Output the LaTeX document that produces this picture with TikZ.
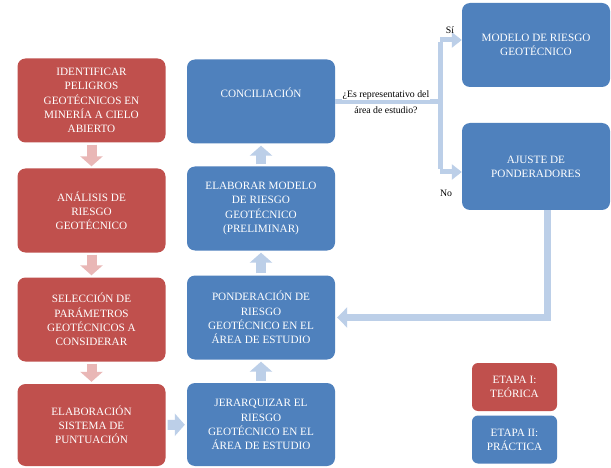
\documentclass[tikz,border=0pt]{standalone}
\usepackage{fontspec}
\setmainfont{Liberation Serif}
\usetikzlibrary{arrows.meta}
\definecolor{rbox}{HTML}{C0504D}
\definecolor{bbox}{HTML}{4F81BD}
\definecolor{barb}{HTML}{BCCFE8}
\definecolor{barr}{HTML}{E9B7B6}
\begin{document}
\begin{tikzpicture}[x=1pt,y=-1pt,
  box/.style={rounded corners=8pt, minimum width=148pt, minimum height=84pt, align=center, text=white, font=\fontsize{11.2}{14.2}\selectfont, inner sep=0pt},
  redbox/.style={box, fill=rbox},
  bluebox/.style={box, fill=bbox},
  legbox/.style={rounded corners=6pt, minimum width=85pt, minimum height=48pt, align=center, text=white, font=\fontsize{11.2}{14.2}\selectfont, inner sep=0pt},
  redarr/.style={draw=barr, line width=10pt, -{Triangle[width=22pt,length=10pt]}, shorten <=2pt, shorten >=2pt},
  bluearr/.style={draw=barb, line width=10pt, -{Triangle[width=22pt,length=10pt]}, shorten <=2pt, shorten >=2pt},
  bar/.style={draw=barb, line width=5pt},
  bartip/.style={bar, -{Triangle[width=15pt,length=10pt]}},
  lbl/.style={font=\fontsize{9.8}{12}\selectfont, text=black, inner sep=1pt, align=center}
]
\fill[white] (0,0) rectangle (611,468);
\useasboundingbox (0,0) rectangle (611,468);

% red column
\node[redbox] (r1) at (91.5,100.5) {IDENTIFICAR\\PELIGROS\\GEOTÉCNICOS EN\\MINERÍA A CIELO\\ABIERTO};
\node[redbox] (r2) at (91.5,210.5) {ANÁLISIS DE\\RIESGO\\GEOTÉCNICO};
\node[redbox] (r3) at (91.5,319.5) {SELECCIÓN DE\\PARÁMETROS\\GEOTÉCNICOS A\\CONSIDERAR};
\node[redbox, minimum height=82pt] (r4) at (91.5,425) {ELABORACIÓN\\SISTEMA DE\\PUNTUACIÓN};

% blue column
\node[bluebox] (conc) at (261,101.5) {CONCILIACIÓN\\[4pt]};
\node[bluebox] (elab) at (261,208.5) {ELABORAR MODELO\\DE RIESGO\\GEOTÉCNICO\\(PRELIMINAR)};
\node[bluebox] (pond) at (261,317.5) {PONDERACIÓN DE\\RIESGO\\GEOTÉCNICO EN EL\\ÁREA DE ESTUDIO};
\node[bluebox, minimum height=83pt] (jer) at (261,424.5) {JERARQUIZAR EL\\RIESGO\\GEOTÉCNICO EN EL\\ÁREA DE ESTUDIO};

% right column
\node[bluebox] (mod) at (536,45) {MODELO DE RIESGO\\GEOTÉCNICO};
\node[bluebox, minimum height=87pt] (aju) at (536,166.5) {AJUSTE DE\\PONDERADORES};

% legend
\node[legbox, fill=rbox] (leg1) at (514.5,387) {ETAPA I:\\TEÓRICA};
\node[legbox, fill=bbox] (leg2) at (514.5,439.5) {ETAPA II:\\PRÁCTICA};

% red arrows
\draw[redarr] (r1) -- (r2);
\draw[redarr] (r2) -- (r3);
\draw[redarr] (r3) -- (r4);

% blue arrows
\draw[bluearr] (r4) -- (jer);
\draw[bluearr] (jer) -- (pond);
\draw[bluearr] (pond) -- (elab);
\draw[bluearr] (elab) -- (conc);

% decision branch
\coordinate (bj) at (440,101.5);
\coordinate (btop) at (440,40);
\coordinate (bbot) at (440,172);
\draw[bar] (conc.east) -- (bj);
\draw[bar] ([yshift=-2.5pt]btop) -- ([yshift=2.5pt]bbot);
\draw[bartip] (btop) -- (btop -| mod.west);
\draw[bartip] (bbot) -- (bbot -| aju.west);
\node[lbl, fill=white] (q1) at (386,95) {¿Es representativo del};
\node[lbl] (q2) at (386,110) {área de estudio?};
\node[lbl] (si) at (450,30) {Sí};
\node[lbl] (no) at (446,193) {No};

% return path
\draw[draw=barb, line width=7pt, -{Triangle[width=20pt,length=10pt]}, shorten >=2pt] ([xshift=11pt]aju.south) |- (pond.east);
\end{tikzpicture}
\end{document}
